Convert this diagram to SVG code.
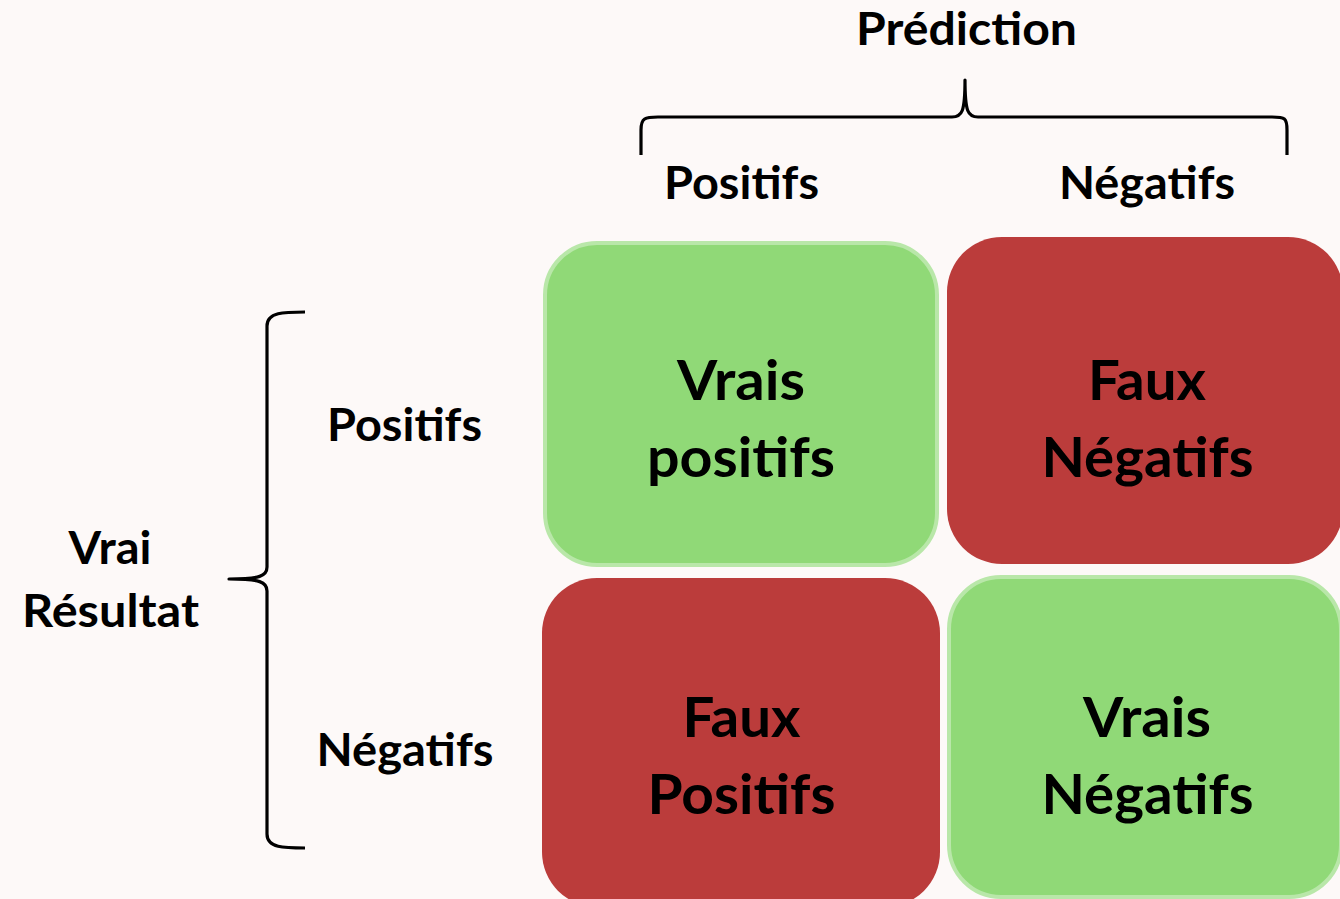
<svg xmlns="http://www.w3.org/2000/svg" width="1340" height="899" viewBox="0 0 1340 899">
  <style>
    .bg { fill: #fdf9f8; }
    .lbl { font-family: Lato, "Open Sans", "Liberation Sans", sans-serif; font-weight: bold; font-size: 45px; fill: #000; text-anchor: middle; }
    .cell { font-family: Lato, "Open Sans", "Liberation Sans", sans-serif; font-weight: bold; font-size: 56px; fill: #000; text-anchor: middle; }
    .good { fill: #90d977; stroke: #b9e7a9; stroke-width: 4; }
    .bad { fill: #bb3c3b; stroke: none; }
    .brace { fill: none; stroke: #000; stroke-width: 3.2; stroke-linejoin: round; stroke-linecap: butt; }
  </style>

  <rect class="bg" x="0" y="0" width="1340" height="899"/>

  <!-- axis titles -->
  <g id="title-prediction">
    <text class="lbl" x="966.5" y="45" textLength="221" lengthAdjust="spacingAndGlyphs">Prédiction</text>
  </g>
  <g id="col-positifs">
    <text class="lbl" x="741.5" y="199" textLength="155" lengthAdjust="spacingAndGlyphs">Positifs</text>
  </g>
  <g id="col-negatifs">
    <text class="lbl" x="1147" y="199" textLength="176" lengthAdjust="spacingAndGlyphs">Négatifs</text>
  </g>
  <g id="row-positifs">
    <text class="lbl" x="404.5" y="441" textLength="155" lengthAdjust="spacingAndGlyphs">Positifs</text>
  </g>
  <g id="row-negatifs">
    <text class="lbl" x="405" y="766" textLength="177" lengthAdjust="spacingAndGlyphs">Négatifs</text>
  </g>
  <g id="title-vrai-resultat">
    <text class="lbl" x="110" y="564" textLength="83" lengthAdjust="spacingAndGlyphs">Vrai</text>
    <text class="lbl" x="110.5" y="627" textLength="177" lengthAdjust="spacingAndGlyphs">Résultat</text>
  </g>

  <!-- braces -->
  <g id="connectors">
    <path class="brace" d="M 641 155 L 641 130 C 641 118 645 117 658 117 L 952 117 C 962 117 965 112 965 80 C 965 112 968 117 978 117 L 1272 117 C 1285 117 1287 118 1287 130 L 1287 155"/>
    <path class="brace" d="M 305 312 C 284 312 267 312 267 326 L 267 567 C 267 576 260 579 229 579 C 260 579 267 582 267 591 L 267 834 C 267 848 284 848 305 848"/>
  </g>

  <!-- confusion matrix cells -->
  <g id="cell-vrais-positifs">
    <rect class="good" x="545" y="243" width="392" height="322" rx="52" ry="52"/>
    <text class="cell" x="741" y="400" textLength="128" lengthAdjust="spacingAndGlyphs">Vrais</text>
    <text class="cell" x="741" y="477" textLength="188" lengthAdjust="spacingAndGlyphs">positifs</text>
  </g>
  <g id="cell-faux-negatifs">
    <rect class="bad" x="947" y="237" width="396" height="327" rx="55" ry="55"/>
    <text class="cell" x="1147" y="400" textLength="118" lengthAdjust="spacingAndGlyphs">Faux</text>
    <text class="cell" x="1147.5" y="477" textLength="212" lengthAdjust="spacingAndGlyphs">Négatifs</text>
  </g>
  <g id="cell-faux-positifs">
    <rect class="bad" x="542" y="578" width="398" height="329" rx="55" ry="55"/>
    <text class="cell" x="741.5" y="737" textLength="118" lengthAdjust="spacingAndGlyphs">Faux</text>
    <text class="cell" x="741.5" y="814" textLength="188" lengthAdjust="spacingAndGlyphs">Positifs</text>
  </g>
  <g id="cell-vrais-negatifs">
    <rect class="good" x="949" y="577" width="392" height="320" rx="52" ry="52"/>
    <text class="cell" x="1147" y="737" textLength="128" lengthAdjust="spacingAndGlyphs">Vrais</text>
    <text class="cell" x="1147.5" y="814" textLength="212" lengthAdjust="spacingAndGlyphs">Négatifs</text>
  </g>
</svg>
